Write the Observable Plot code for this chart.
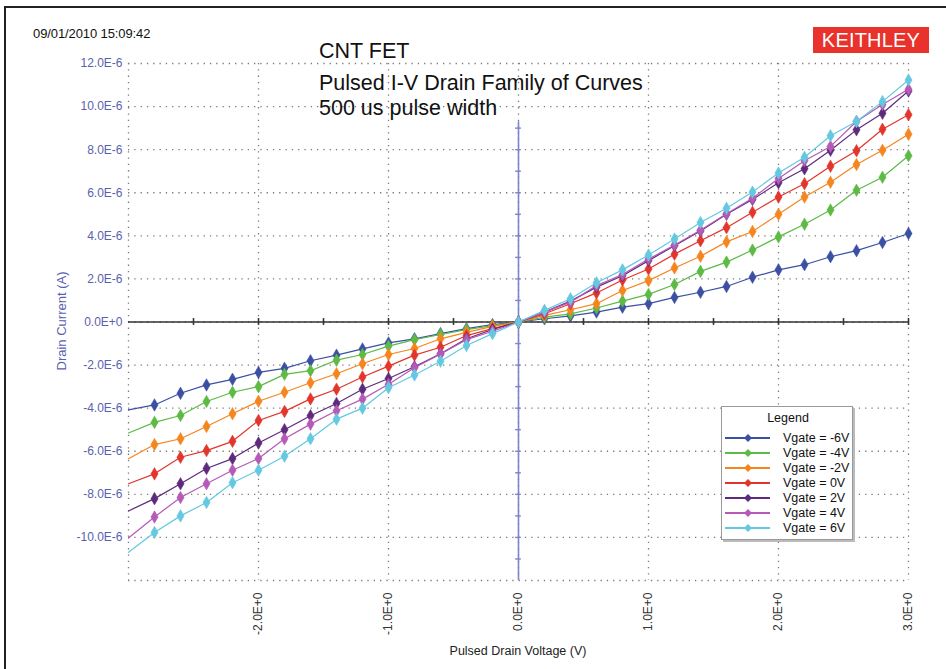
<!DOCTYPE html>
<html>
<head>
<meta charset="utf-8">
<script src="https://cdn.jsdelivr.net/npm/d3@7"></script>
<script src="https://cdn.jsdelivr.net/npm/@observablehq/plot@0.6"></script>
<style>
  html, body { margin: 0; padding: 0; background: #fff; }
  #wrap { position: relative; width: 946px; height: 669px; overflow: hidden; font-family: "Liberation Sans", Arial, sans-serif; }
  #wrap svg.plot { position: absolute; left: 0; top: 0; }
  .abs { position: absolute; white-space: nowrap; }
  #frame { position: absolute; left: 4px; top: 6px; width: 960px; height: 700px; border-top: 2px solid #222; border-left: 2px solid #222; }
  #logo { left: 813px; top: 27px; width: 116px; height: 26px; background: #e8322b; color: #fff; font-size: 20px; line-height: 26px; text-align: center; letter-spacing: 0.2px; }
  #legend { position: absolute; left: 721px; top: 406px; width: 130px; height: 132px; background: #fff; border: 1px solid #999; box-shadow: 2px 2px 0 #bbb; }
</style>
</head>
<body>
<div id="wrap">
  <div id="frame"></div>
</div>
<script>
// ---- data ----
const voltage = [-3.0, -2.8, -2.6, -2.4, -2.2, -2.0, -1.8, -1.6, -1.4, -1.2, -1.0, -0.8, -0.6, -0.4, -0.2, 0.0,
                 0.2, 0.4, 0.6, 0.8, 1.0, 1.2, 1.4, 1.6, 1.8, 2.0, 2.2, 2.4, 2.6, 2.8, 3.0];
const seriesNames = ["Vgate = -6V", "Vgate = -4V", "Vgate = -2V", "Vgate = 0V", "Vgate = 2V", "Vgate = 4V", "Vgate = 6V"];
const seriesColors = ["#3b4fa3", "#5cba45", "#f5851f", "#e2352b", "#5e2a7c", "#b55ab6", "#63c8e0"];
// drain current in µA (x1E-6 A)
const vgM6 = [-4.08, -3.85, -3.31, -2.92, -2.66, -2.34, -2.15, -1.80, -1.54, -1.25, -0.97, -0.78, -0.54, -0.31, -0.12, 0,
              0.15, 0.28, 0.46, 0.69, 0.85, 1.14, 1.38, 1.65, 2.08, 2.42, 2.66, 3.03, 3.31, 3.69, 4.11];
const vgM4 = [-5.15, -4.66, -4.34, -3.69, -3.26, -3.00, -2.43, -2.26, -1.77, -1.51, -1.12, -0.82, -0.58, -0.35, -0.17, 0,
              0.23, 0.38, 0.65, 0.97, 1.28, 1.74, 2.35, 2.78, 3.34, 3.95, 4.54, 5.20, 6.12, 6.72, 7.72];
const vgM2 = [-6.35, -5.69, -5.42, -4.85, -4.26, -3.68, -3.26, -2.82, -2.40, -1.94, -1.51, -1.23, -0.78, -0.48, -0.20, 0,
              0.31, 0.57, 0.85, 1.46, 1.92, 2.51, 3.05, 3.72, 4.20, 5.00, 5.80, 6.49, 7.31, 7.97, 8.72];
const vg0  = [-7.51, -7.05, -6.28, -5.97, -5.54, -4.57, -4.15, -3.57, -3.12, -2.55, -2.05, -1.54, -1.17, -0.63, -0.31, 0,
              0.38, 0.85, 1.35, 1.95, 2.46, 3.15, 3.77, 4.38, 5.09, 5.80, 6.42, 7.23, 7.95, 8.95, 9.62];
const vgP2 = [-8.77, -8.20, -7.51, -6.80, -6.34, -5.62, -5.00, -4.35, -3.78, -3.12, -2.62, -2.08, -1.48, -0.78, -0.35, 0,
              0.46, 0.97, 1.62, 2.15, 2.85, 3.54, 4.23, 5.00, 5.69, 6.46, 7.11, 7.97, 8.92, 9.69, 10.72];
const vgP4 = [-10.03, -9.05, -8.15, -7.51, -6.88, -6.34, -5.42, -4.74, -4.12, -3.58, -2.89, -2.12, -1.48, -0.82, -0.43, 0,
              0.46, 0.92, 1.69, 2.20, 2.92, 3.57, 4.26, 5.03, 5.74, 6.66, 7.49, 8.15, 9.31, 10.10, 10.80];
const vgP6 = [-10.69, -9.77, -9.00, -8.38, -7.46, -6.88, -6.23, -5.42, -4.51, -4.00, -3.05, -2.46, -1.82, -1.09, -0.54, 0,
              0.54, 1.08, 1.82, 2.42, 3.11, 3.85, 4.62, 5.28, 6.03, 6.92, 7.65, 8.65, 9.31, 10.23, 11.23];
const seriesValues = [vgM6, vgM4, vgM2, vg0, vgP2, vgP4, vgP6];

const xTickValues = [-2, -1, 0, 1, 2, 3];
const xTickLabels = ["-2.0E+0", "-1.0E+0", "0.0E+0", "1.0E+0", "2.0E+0", "3.0E+0"];
const xGridValues = [-3, -2, -1, 0, 1, 2, 3];
const yTickValues = [-10, -8, -6, -4, -2, 0, 2, 4, 6, 8, 10, 12];
const yTickLabels = ["-10.0E-6", "-8.0E-6", "-6.0E-6", "-4.0E-6", "-2.0E-6", "0.0E+0", "2.0E-6", "4.0E-6", "6.0E-6", "8.0E-6", "10.0E-6", "12.0E-6"];
const yGridValues = [-12, -10, -8, -6, -4, -2, 0, 2, 4, 6, 8, 10, 12];
const zeroAxisTicks = [-2.5, -2, -1.5, -1, -0.5, 0.5, 1, 1.5, 2, 2.5, 3];
const vAxisTicks = [-11, -10, -9, -8, -7, -6, -5, -4, -3, -2, -1, 1, 2, 3, 4, 5, 6, 7, 8, 9];
const vAxisTop = 9.3;

const titleLines = ["CNT FET", "Pulsed I-V Drain Family of Curves", "500 us pulse width"];
const timestamp = "09/01/2010 15:09:42";
const xLabel = "Pulsed Drain Voltage (V)";
const yLabel = "Drain Current (A)";

// ---- build ----
const rowsBySeries = seriesValues.map((vals, i) => voltage.map((v, j) => ({x: v, y: vals[j], s: seriesNames[i]})));

const lineMarks = [];
rowsBySeries.forEach((rows, i) => {
  lineMarks.push(Plot.line(rows, {x: "x", y: "y", stroke: seriesColors[i], strokeWidth: 1.2}));
  lineMarks.push(Plot.dot(rows.filter(d => d.x > -3), {x: "x", y: "y", symbol: "diamond", r: 3.8, fill: seriesColors[i], stroke: seriesColors[i], strokeWidth: 0.5}));
});

const dotted = {stroke: "#7a7a7a", strokeWidth: 1.3, strokeDasharray: "1.3,5"};
const axisBlue = "#7d84c9";
const labelBlue = "#5a5fae";

const chart = Plot.plot({
  width: 946,
  height: 669,
  marginLeft: 128,
  marginRight: 38,
  marginTop: 63,
  marginBottom: 89,
  x: {domain: [-3, 3]},
  y: {domain: [-12, 12]},
  style: {fontFamily: "'Liberation Sans', Arial, sans-serif", fontSize: "12px", background: "transparent", overflow: "visible"},
  marks: [
    Plot.ruleX(xGridValues, dotted),
    Plot.ruleY(yGridValues, dotted),
    Plot.axisY({ticks: yTickValues, tickSize: 0, tickPadding: 6, tickFormat: d => yTickLabels[yTickValues.indexOf(d)], fill: labelBlue, label: null, fontSize: 12}),
    Plot.axisX({ticks: xTickValues, tickSize: 0, tickPadding: 12, tickRotate: -90, tickFormat: d => xTickLabels[xTickValues.indexOf(d)], fill: "#333", label: null, fontSize: 12}),
    Plot.ruleY([0], {stroke: "#333", strokeWidth: 1.6}),
    Plot.ruleX(zeroAxisTicks, {y1: -0.16, y2: 0.16, stroke: "#333", strokeWidth: 1.6}),
    Plot.ruleX([0], {y1: -12, y2: vAxisTop, stroke: axisBlue, strokeWidth: 1.6}),
    Plot.ruleY(vAxisTicks, {x1: -0.022, x2: 0.022, stroke: axisBlue, strokeWidth: 1.4}),
    ...lineMarks
  ]
});
chart.classList.add("plot");
const wrap = document.getElementById("wrap");
wrap.appendChild(chart);

function addText(text, left, top, css) {
  const d = document.createElement("div");
  d.className = "abs";
  d.textContent = text;
  d.style.left = left + "px";
  d.style.top = top + "px";
  Object.assign(d.style, css || {});
  wrap.appendChild(d);
  return d;
}

addText(timestamp, 33, 26, {fontSize: "13px", color: "#111", letterSpacing: "-0.1px"});
const logo = addText("KEITHLEY", 813, 27, {});
logo.id = "logo";

const titleTops = [39, 71, 96];
titleLines.forEach((t, i) => {
  addText(t, 319, titleTops[i], {fontSize: "21.5px", color: "#111"});
});

// axis titles
addText(xLabel, 518, 651, {fontSize: "12.5px", color: "#222", transform: "translate(-50%,-50%)"});
addText(yLabel, 61, 321, {fontSize: "13px", color: labelBlue, transform: "translate(-50%,-50%) rotate(-90deg)"});

// legend
const leg = document.createElement("div");
leg.id = "legend";
wrap.appendChild(leg);
const lsvg = d3.select(leg).append("svg").attr("width", 130).attr("height", 132)
  .style("position", "absolute").style("left", 0).style("top", 0)
  .style("font-family", "'Liberation Sans', Arial, sans-serif");
lsvg.append("text").attr("x", 66).attr("y", 15).attr("text-anchor", "middle").attr("font-size", 12.5).attr("fill", "#111").text("Legend");
seriesNames.forEach((name, i) => {
  const cy = 31 + i * 15;
  lsvg.append("line").attr("x1", 3).attr("x2", 48).attr("y1", cy).attr("y2", cy).attr("stroke", seriesColors[i]).attr("stroke-width", 2);
  lsvg.append("path").attr("d", d3.symbol(d3.symbolDiamond2, 40)()).attr("transform", `translate(26,${cy})`).attr("fill", seriesColors[i]);
  lsvg.append("text").attr("x", 61).attr("y", cy + 4).attr("font-size", 12.5).attr("fill", "#111").text(name);
});
</script>
</body>
</html>
